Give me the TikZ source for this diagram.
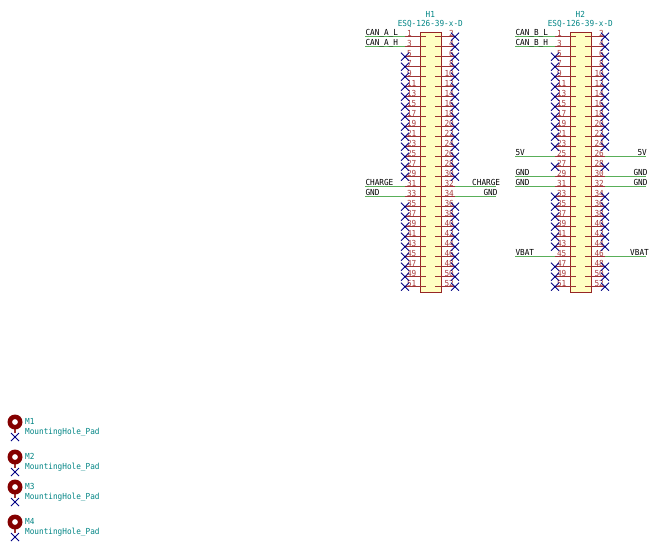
\documentclass[tikz,border=0pt]{standalone}
\usepackage{fontspec}
\setmainfont[FakeStretch=0.93]{DejaVu Sans Mono}
\definecolor{pinc}{RGB}{132,0,0}
\definecolor{numc}{RGB}{169,60,60}
\definecolor{wirec}{RGB}{0,132,0}
\definecolor{ncc}{RGB}{0,0,132}
\definecolor{refc}{RGB}{0,132,132}
\definecolor{bodyc}{RGB}{255,255,194}
\tikzset{
  x=1pt,y=-1pt,
  txt/.style={inner sep=0pt,font=\fontsize{8.3}{9}\selectfont},
  refl/.style={txt,text=refc},
  netl/.style={txt,text=black},
  num/.style={txt,text=numc},
  pinl/.style={draw=pinc!80,line width=1.2pt},
  wirel/.style={draw=wirec!65,line width=1.4pt},
  ncm/.style={draw=ncc,line width=0.8pt},
  bodyb/.style={draw=pinc!85,line width=1.1pt,fill=bodyc},
}
\newcommand{\ncmark}[2]{\draw[ncm] (#1-4,#2-4) -- (#1+4,#2+4) (#1-4,#2+4) -- (#1+4,#2-4);}
\newcommand{\conn}[4]{%
  \node[refl,anchor=base] (#2ref) at (#1+430.3,18) {#2};
  \node[refl,anchor=base] (#2val) at (#1+430.3,27) {ESQ-126-39-x-D};
  \node[bodyb,minimum width=20.7pt,minimum height=260pt,anchor=north west,inner sep=0pt] (#2b) at (#1+420,31.7) {};
  \foreach \r in {0,...,25}{
    \pgfmathsetmacro{\yy}{36.7+10*\r}
    \pgfmathtruncatemacro{\nl}{2*\r+1}
    \pgfmathtruncatemacro{\nr}{2*\r+2}
    \draw[pinl] (#1+405,\yy) -- (#1+425.7,\yy);
    \draw[pinl] (#1+435,\yy) -- (#1+455,\yy);
    \node[num,anchor=base west] at (#1+406.8,\yy-0.6) {\nl};
    \node[num,anchor=base east] at (#1+454,\yy-0.6) {\nr};
  }
  \foreach \r in {#3}{
    \pgfmathsetmacro{\yy}{36.7+10*\r}
    \ncmark{#1+405}{\yy}
  }
  \foreach \r in {#4}{
    \pgfmathsetmacro{\yy}{36.7+10*\r}
    \ncmark{#1+455}{\yy}
  }
}
\newcommand{\lwire}[3]{%
  \coordinate (a#1#2) at (#1+365,36.7+10*#2);
  \coordinate (b#1#2) at (#1+405,36.7+10*#2);
  \draw[wirel] (a#1#2) -- (b#1#2);
  \node[netl,anchor=base west] at (#1+365.3,36.7+10*#2-1) {#3};
}
% #4: x of the right end of the text
\newcommand{\rwire}[4]{%
  \coordinate (c#1#2) at (#1+455,36.7+10*#2);
  \coordinate (d#1#2) at (#1+495.7,36.7+10*#2);
  \draw[wirel] (c#1#2) -- (d#1#2);
  \node[netl,anchor=base east] at (#1+#4,36.7+10*#2-1) {#3};
}
\newcommand{\mhole}[2]{%
  \draw[pinl] (15,#2+6) -- (15,#2+11);
  \ncmark{15}{#2+15}
  \fill[pinc,even odd rule] (15,#2) circle (7.5) (15,#2) circle (3);
  \node[refl,anchor=base west] at (25,#2+2.6) {#1};
  \node[refl,anchor=base west] at (25,#2+12) {MountingHole\_Pad};
}
\begin{document}
\begin{tikzpicture}
\useasboundingbox (0,0) rectangle (658,551);
\conn{0}{H1}{2,3,...,14,17,18,...,25}{0,1,...,14,17,18,...,25}
\conn{150}{H2}{2,3,...,11,13,16,17,...,21,23,24,25}{0,1,...,11,13,16,17,...,21,23,24,25}
\lwire{0}{0}{CAN\_A\_L}
\lwire{0}{1}{CAN\_A\_H}
\lwire{0}{15}{CHARGE}
\lwire{0}{16}{GND}
\rwire{0}{15}{CHARGE}{500.3}
\rwire{0}{16}{GND}{497.7}
\lwire{150}{0}{CAN\_B\_L}
\lwire{150}{1}{CAN\_B\_H}
\lwire{150}{12}{5V}
\lwire{150}{14}{GND}
\lwire{150}{15}{GND}
\lwire{150}{22}{VBAT}
\rwire{150}{12}{5V}{497}
\rwire{150}{14}{GND}{497.7}
\rwire{150}{15}{GND}{497.7}
\rwire{150}{22}{VBAT}{499}
\mhole{M1}{422}
\mhole{M2}{457}
\mhole{M3}{487}
\mhole{M4}{522}
\end{tikzpicture}
\end{document}
